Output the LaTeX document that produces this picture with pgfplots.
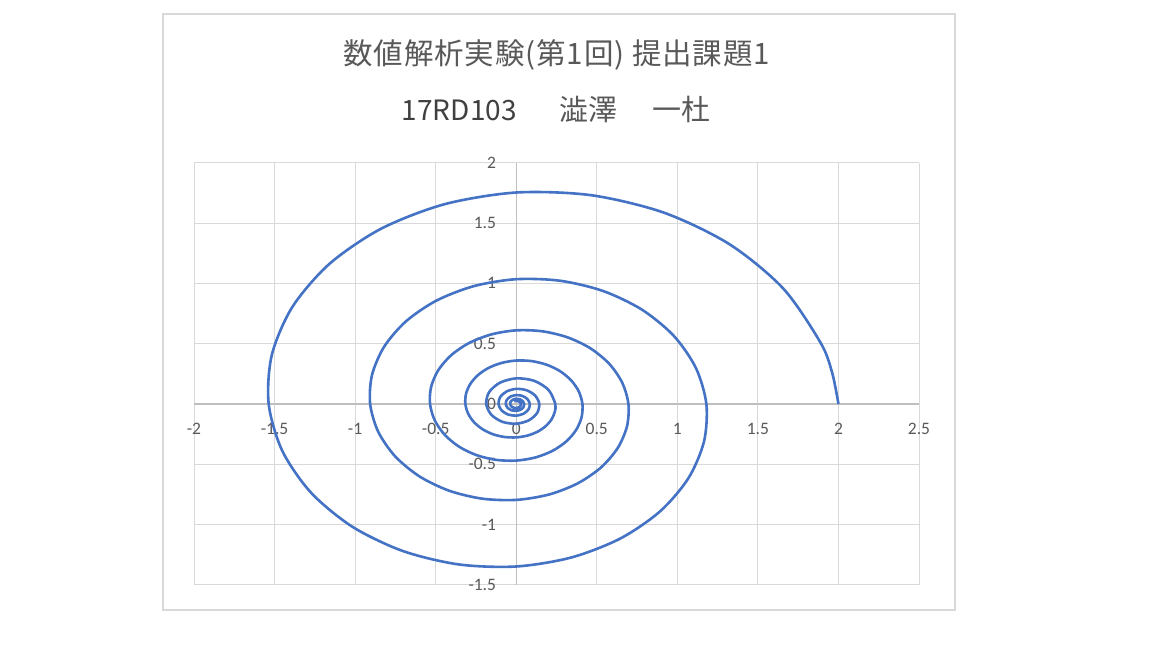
\documentclass[border=0pt]{standalone}
\usepackage{fontspec}
\usepackage{pgfplots}
\pgfplotsset{compat=1.18}
\newfontfamily\cjk{Noto Sans CJK JP}
\newfontfamily\cjkwide[LetterSpace=3]{Noto Sans CJK JP}
\newfontfamily\carlito{Carlito}
\definecolor{framegray}{HTML}{D9D9D9}
\definecolor{gridgray}{HTML}{D9D9D9}
\definecolor{axisgray}{HTML}{BFBFBF}
\definecolor{labelgray}{HTML}{595959}
\definecolor{darktext}{HTML}{404040}
\definecolor{spiralblue}{HTML}{4472C4}
\begin{document}
\begin{tikzpicture}
\path[use as bounding box, fill=white] (0pt,0pt) rectangle (1152pt,648pt);
\draw[framegray, line width=1.5pt] (163pt,38pt) rectangle (955pt,634pt);
\node[anchor=base, text=labelgray, font=\cjkwide\fontsize{29.5}{33}\selectfont, inner sep=0pt] at (556.7pt,583pt) {数値解析実験(第1回) 提出課題1};
\node[anchor=base west, text=darktext, font=\cjk\fontsize{28}{31}\selectfont, inner sep=0pt] at (401.7pt,527pt) {17RD103};
\node[anchor=base west, text=labelgray, font=\cjk\fontsize{29}{31}\selectfont, inner sep=0pt] at (559pt,527pt) {澁澤};
\node[anchor=base west, text=labelgray, font=\cjk\fontsize{29}{31}\selectfont, inner sep=0pt] at (652pt,527pt) {一杜};
\begin{axis}[
  at={(194pt,63pt)}, anchor=south west,
  width=725pt, height=422.3pt, scale only axis,
  xmin=-2, xmax=2.5, ymin=-1.5, ymax=2,
  axis lines=middle,
  axis line style={draw=axisgray, line width=1.3pt, -},
  grid=major, grid style={draw=gridgray, line width=1pt},
  xtick={-2,-1.5,-1,-0.5,0,0.5,1,1.5,2,2.5},
  ytick={-1.5,-1,-0.5,0,0.5,1,1.5,2},
  major tick length=0pt,
  hide obscured x ticks=false, hide obscured y ticks=false,
  /pgf/number format/assume math mode=true,
  tick label style={font=\carlito\fontsize{17.5}{20}\selectfont, text=labelgray},
  xticklabel style={anchor=center, yshift=-25pt, inner sep=0pt},
  yticklabel style={anchor=east, xshift=-20pt, inner sep=0pt},
  clip=false,
]
\addplot[color=spiralblue, line width=2.6pt, smooth, no markers, line join=round] coordinates {
(2.0000,0) (1.9612,0.2582) (1.8898,0.5063) (1.6575,0.9570) (1.3240,1.3240) (0.9159,1.5863) (0.4637,1.7308) (0,1.7529) (-0.4438,1.6564) (-0.8388,1.4528) (-1.1604,1.1604) (-1.3903,0.8027) (-1.5170,0.4065)
(-1.5364,0) (-1.4517,-0.3890) (-1.2733,-0.7352) (-1.0171,-1.0171) (-0.7036,-1.2185) (-0.3562,-1.3296) (0,-1.3466) (0.3409,-1.2724) (0.6443,-1.1160) (0.8914,-0.8914) (1.0680,-0.6166) (1.1653,-0.3122)
(1.1803,0) (1.1152,0.2988) (0.9781,0.5648) (0.7813,0.7813) (0.5405,0.9361) (0.2737,1.0214) (0,1.0345) (-0.2619,0.9775) (-0.4950,0.8573) (-0.6848,0.6848) (-0.8204,0.4737) (-0.8952,0.2399)
(-0.9067,0) (-0.8567,-0.2295) (-0.7514,-0.4338) (-0.6002,-0.6002) (-0.4152,-0.7191) (-0.2102,-0.7846) (0,-0.7947) (0.2012,-0.7509) (0.3802,-0.6586) (0.5261,-0.5261) (0.6303,-0.3639) (0.6877,-0.1843)
(0.6965,0) (0.6581,0.1763) (0.5772,0.3333) (0.4611,0.4611) (0.3189,0.5524) (0.1615,0.6027) (0,0.6105) (-0.1545,0.5768) (-0.2921,0.5059) (-0.4041,0.4041) (-0.4842,0.2795) (-0.5283,0.1415)
(-0.5350,0) (-0.5056,-0.1355) (-0.4434,-0.2560) (-0.3542,-0.3542) (-0.2450,-0.4243) (-0.1241,-0.4630) (0,-0.4690) (0.1187,-0.4431) (0.2244,-0.3886) (0.3104,-0.3104) (0.3719,-0.2147) (0.4058,-0.1087)
(0.4110,0) (0.3884,0.1041) (0.3406,0.1967) (0.2721,0.2721) (0.1882,0.3260) (0.0953,0.3557) (0,0.3603) (-0.0912,0.3404) (-0.1724,0.2986) (-0.2385,0.2385) (-0.2857,0.1650) (-0.3118,0.0835)
(-0.3157,0) (-0.2984,-0.0799) (-0.2617,-0.1511) (-0.2090,-0.2090) (-0.1446,-0.2504) (-0.0732,-0.2732) (0,-0.2767) (0.0701,-0.2615) (0.1324,-0.2294) (0.1832,-0.1832) (0.2195,-0.1267) (0.2395,-0.0642)
(0.2426,0) (0.2010,0.1161) (0.1111,0.1924) (0,0.2126) (-0.1017,0.1762) (-0.1686,0.0974) (-0.1863,0) (-0.1544,-0.0892) (-0.0853,-0.1478) (0,-0.1633) (0.0781,-0.1353) (0.1295,-0.0748)
(0.1431,0) (0.1186,0.0685) (0.0655,0.1135) (0,0.1255) (-0.0600,0.1040) (-0.0995,0.0575) (-0.1100,0) (-0.0911,-0.0526) (-0.0504,-0.0872) (0,-0.0964) (0.0461,-0.0799) (0.0764,-0.0441)
(0.0845,0) (0.0700,0.0404) (0.0387,0.0670) (0,0.0740) (-0.0354,0.0614) (-0.0587,0.0339) (-0.0649,0) (-0.0538,-0.0311) (-0.0297,-0.0515) (0,-0.0569) (0.0272,-0.0471) (0.0451,-0.0260)
(0.0499,0) (0.0413,0.0239) (0.0228,0.0395) (0,0.0437) (-0.0209,0.0362) (-0.0346,0.0200) (-0.0383,0) (-0.0317,-0.0183) (-0.0175,-0.0304) (0,-0.0336) (0.0161,-0.0278) (0.0266,-0.0154)
(0.0294,0) (0.0244,0.0141) (0.0135,0.0233) (0,0.0258) (-0.0123,0.0214)
};
\end{axis}
\end{tikzpicture}
\end{document}
